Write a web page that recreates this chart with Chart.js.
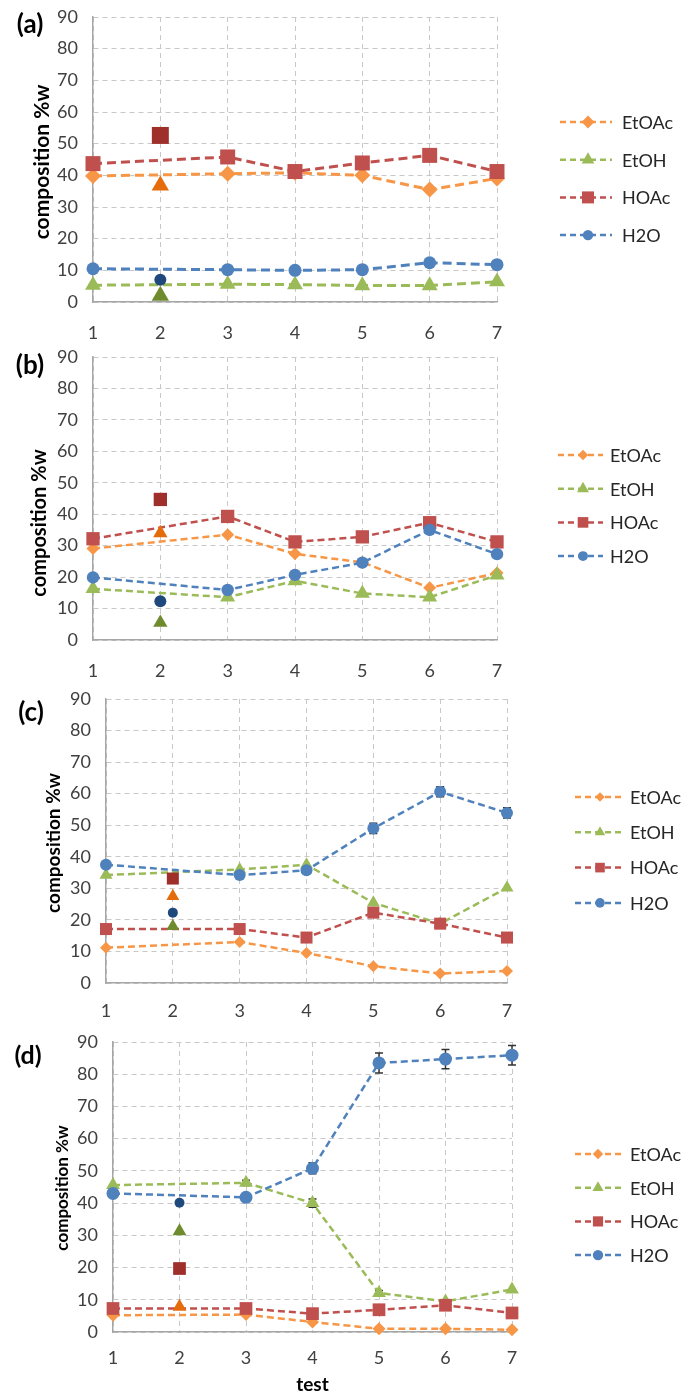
<!DOCTYPE html>
<html>
<head>
<meta charset="utf-8">
<script src="https://cdn.jsdelivr.net/npm/chart.js@4.4.1/dist/chart.umd.min.js"></script>
<style>
  body { margin: 0; background: #fff; width: 683px; height: 1396px; position: relative; overflow: hidden; }
  .panel { position: absolute; left: 0; width: 683px; }
  canvas { display: block; }
</style>
</head>
<body>
<div class="panel" style="top:0"><canvas id="chart-a" width="683" height="345"></canvas></div>
<div class="panel" style="top:345px"><canvas id="chart-b" width="683" height="335"></canvas></div>
<div class="panel" style="top:680px"><canvas id="chart-c" width="683" height="345"></canvas></div>
<div class="panel" style="top:1025px"><canvas id="chart-d" width="683" height="371"></canvas></div>
<script>
const tests = ['1', '2', '3', '4', '5', '6', '7'];
const species = ['EtOAc', 'EtOH', 'HOAc', 'H2O'];
const yTicks = [0, 10, 20, 30, 40, 50, 60, 70, 80, 90];

// (a)  test 2 is plotted as separate points, the lines skip it
const etoacA = [39.8, null, 40.5, 40.8, 40.0, 35.5, 39.0];
const etohA = [5.3, null, 5.6, 5.5, 5.2, 5.2, 6.4];
const hoacA = [43.7, null, 45.8, 41.2, 43.9, 46.3, 41.2];
const h2oA = [10.5, null, 10.2, 10.0, 10.2, 12.4, 11.8];
const test2A = [36.8, 2.0, 52.6, 7.0];   // EtOAc, EtOH, HOAc, H2O

// (b)
const etoacB = [29.1, null, 33.5, 27.4, 24.7, 16.6, 21.3];
const etohB = [16.3, null, 13.6, 18.8, 14.8, 13.6, 20.6];
const hoacB = [32.2, null, 39.3, 31.2, 32.8, 37.3, 31.2];
const h2oB = [19.9, null, 15.9, 20.7, 24.6, 35.0, 27.3];
const test2B = [34.0, 5.5, 44.7, 12.3];

// (c)
const etoacC = [11.2, null, 13.0, 9.5, 5.3, 3.0, 3.8];
const etohC = [34.2, null, 36.0, 37.5, 25.4, 18.8, 30.2];
const hoacC = [17.1, null, 17.1, 14.4, 22.3, 18.8, 14.4];
const h2oC = [37.5, null, 34.2, 35.7, 49.0, 60.6, 53.9];
const h2oErrC = [0.5, null, 0.5, 0.5, 1.6, 1.6, 1.6];
const test2C = [27.5, 18.0, 33.1, 22.3];

// (d)
const etoacD = [5.2, null, 5.4, 3.1, 1.0, 1.0, 0.7];
const etohD = [45.6, null, 46.3, 40.0, 12.1, 9.5, 13.2];
const hoacD = [7.3, null, 7.3, 5.7, 6.9, 8.3, 5.9];
const h2oD = [43.0, null, 41.8, 50.8, 83.5, 84.7, 85.9];
const etohErrD = [0, null, 0.8, 1.3, 0.8, 0, 0];
const h2oErrD = [0.8, null, 0.8, 1.7, 3.1, 3.0, 3.0];
const test2D = [7.8, 31.3, 19.7, 40.1];

const lineColors = ['#F79646', '#9BBB59', '#C0504D', '#4F81BD'];
const test2Colors = ['#E46C0A', '#6E8B2E', '#9E2F2B', '#1F497D'];
const mainStyles = ['rectRot', 'triangle', 'rect', 'circle'];
const test2Styles = ['triangle', 'triangle', 'rect', 'circle'];
const FONT = 'Lato, "Noto Sans", sans-serif';

// legend drawn at the right: dashed stub + marker + name
const sideLegend = {
  id: 'sideLegend',
  afterDraw(chart, args, o) {
    const ctx = chart.ctx;
    const items = chart.data.datasets.filter(d => d.inLegend);
    ctx.save();
    items.forEach((ds, i) => {
      const y = o.top + i * o.gap;
      ctx.strokeStyle = ds.borderColor;
      ctx.lineWidth = 2.5;
      ctx.setLineDash([6, 4]);
      ctx.beginPath();
      ctx.moveTo(o.lineStart, y);
      ctx.lineTo(o.lineEnd, y);
      ctx.stroke();
      ctx.setLineDash([]);
      ctx.fillStyle = ds.borderColor;
      Chart.helpers.drawPoint(ctx, { pointStyle: ds.pointStyle, radius: ds.pointRadius * 0.8, borderWidth: 0, rotation: 0 }, o.marker, y);
      ctx.fillStyle = '#262626';
      ctx.font = o.size + 'px ' + FONT;
      ctx.textBaseline = 'middle';
      ctx.fillText(ds.label, o.text, y + 1);
    });
    ctx.restore();
  }
};

// panel letter and rotated y title
const panelText = {
  id: 'panelText',
  afterDraw(chart, args, o) {
    const ctx = chart.ctx;
    ctx.save();
    ctx.fillStyle = '#000';
    ctx.textAlign = 'center';
    ctx.textBaseline = 'middle';
    ctx.font = 'bold ' + o.label.size + 'px ' + FONT;
    ctx.fillText(o.label.text, o.label.x, o.label.y);
    ctx.translate(o.yTitle.x, o.yTitle.y);
    ctx.rotate(-Math.PI / 2);
    ctx.font = 'bold ' + o.yTitle.size + 'px ' + FONT;
    ctx.fillText('composition %w', 0, 0);
    ctx.restore();
  }
};

const errorBars = {
  id: 'errorBars',
  beforeDatasetsDraw(chart) {
    const { ctx, scales: { x, y } } = chart;
    ctx.save();
    ctx.strokeStyle = '#333';
    ctx.lineWidth = 1.5;
    chart.data.datasets.forEach(ds => {
      if (!ds.errors) return;
      ds.data.forEach((v, j) => {
        const e = ds.errors[j];
        if (v == null || !e) return;
        const px = x.getPixelForValue(j);
        const y1 = y.getPixelForValue(v + e), y2 = y.getPixelForValue(v - e);
        ctx.beginPath();
        ctx.moveTo(px, y1); ctx.lineTo(px, y2);
        ctx.moveTo(px - 4, y1); ctx.lineTo(px + 4, y1);
        ctx.moveTo(px - 4, y2); ctx.lineTo(px + 4, y2);
        ctx.stroke();
      });
    });
    ctx.restore();
  }
};

function makePanel(p) {
  const datasets = [];
  p.series.forEach((vals, i) => {
    datasets.push({
      label: species[i], data: vals, inLegend: true, errors: p.errors[i],
      borderColor: lineColors[i], backgroundColor: lineColors[i],
      borderWidth: p.lineWidth, borderDash: p.dash, spanGaps: true,
      pointStyle: mainStyles[i], pointRadius: p.radius[i], pointBorderWidth: 0,
      order: 4 - i, clip: false
    });
  });
  p.test2.forEach((v, i) => {
    datasets.push({
      label: species[i] + ' (test 2)',
      data: tests.map((t, j) => (j === 1 ? v : null)),
      showLine: false, borderColor: test2Colors[i], backgroundColor: test2Colors[i],
      pointStyle: test2Styles[i], pointRadius: p.test2Radius[i], pointBorderWidth: 0,
      order: 0, clip: false
    });
  });

  const a = p.area;
  const canvas = document.getElementById(p.id);
  new Chart(canvas, {
    type: 'line',
    data: { labels: tests, datasets: datasets },
    options: {
      responsive: false,
      animation: false,
      layout: { padding: { left: 0, top: a.top, right: canvas.width - a.right, bottom: 0 } },
      plugins: {
        legend: { display: false },
        tooltip: { enabled: false },
        sideLegend: p.legend,
        panelText: { label: p.label, yTitle: p.yTitle }
      },
      scales: {
        x: {
          offset: false,
          grid: { color: '#C8C8C8', lineWidth: 1, drawTicks: false },
          border: { display: true, color: '#A6A6A6', width: 1.5, dash: [5, 4] },
          ticks: { color: '#404040', padding: p.xPad, font: { family: FONT, size: 18 } },
          title: p.xTitle ? { display: true, text: p.xTitle, color: '#000', padding: 0, font: { family: FONT, size: 19, weight: 'bold' } } : { display: false },
          afterFit(s) { s.height = canvas.height - a.bottom; s.paddingLeft = 0; s.paddingRight = 0; }
        },
        y: {
          min: yTicks[0], max: yTicks[yTicks.length - 1],
          ticks: { stepSize: yTicks[1] - yTicks[0], color: '#404040', padding: 15, font: { family: FONT, size: 18 } },
          grid: { color: '#C8C8C8', lineWidth: 1, drawTicks: false },
          border: { display: true, color: '#A6A6A6', width: 1.5, dash: [5, 4] },
          afterFit(s) { s.width = a.left; s.paddingTop = 0; s.paddingBottom = 0; }
        }
      }
    },
    plugins: [errorBars, sideLegend, panelText]
  });
}

makePanel({
  id: 'chart-a', area: { left: 93, right: 497, top: 17, bottom: 302 }, xPad: 20,
  series: [etoacA, etohA, hoacA, h2oA], errors: [null, null, null, null], test2: test2A,
  radius: [8, 9.2, 10.6, 6.5], test2Radius: [10, 10, 12, 6], lineWidth: 3, dash: [9, 5],
  label: { text: '(a)', x: 30, y: 25, size: 26 }, yTitle: { x: 42, y: 162, size: 21 },
  legend: { lineStart: 560, marker: 588, lineEnd: 612, text: 622, top: 122, gap: 37.7, size: 18 }
});
makePanel({
  id: 'chart-b', area: { left: 93, right: 497, top: 12, bottom: 295 }, xPad: 20,
  series: [etoacB, etohB, hoacB, h2oB], errors: [null, null, null, null], test2: test2B,
  radius: [6.5, 8.7, 9.4, 6.2], test2Radius: [8.3, 8.3, 9.4, 6], lineWidth: 2.5, dash: [7, 4],
  label: { text: '(b)', x: 30, y: 21, size: 26 }, yTitle: { x: 40, y: 178, size: 20 },
  legend: { lineStart: 558, marker: 583, lineEnd: 603, text: 610, top: 110, gap: 33.7, size: 18 }
});
makePanel({
  id: 'chart-c', area: { left: 106, right: 507, top: 19, bottom: 303 }, xPad: 17,
  series: [etoacC, etohC, hoacC, h2oC], errors: [null, null, null, h2oErrC], test2: test2C,
  radius: [6, 7.5, 8.5, 6], test2Radius: [7.5, 7.5, 8.5, 5], lineWidth: 2.5, dash: [7, 4],
  label: { text: '(c)', x: 31, y: 33, size: 26 }, yTitle: { x: 54, y: 163, size: 19 },
  legend: { lineStart: 575, marker: 600, lineEnd: 625, text: 630, top: 117, gap: 35.3, size: 18 }
});
makePanel({
  id: 'chart-d', area: { left: 113, right: 512, top: 17, bottom: 307 }, xPad: 15, xTitle: 'test',
  series: [etoacD, etohD, hoacD, h2oD], errors: [null, etohErrD, null, h2oErrD], test2: test2D,
  radius: [6.5, 8, 9, 6.5], test2Radius: [8, 8, 9, 5], lineWidth: 2.5, dash: [7, 4],
  label: { text: '(d)', x: 28, y: 31, size: 25 }, yTitle: { x: 63, y: 163, size: 17 },
  legend: { lineStart: 575, marker: 598, lineEnd: 625, text: 630, top: 129, gap: 33.7, size: 18 }
});
</script>
</body>
</html>
